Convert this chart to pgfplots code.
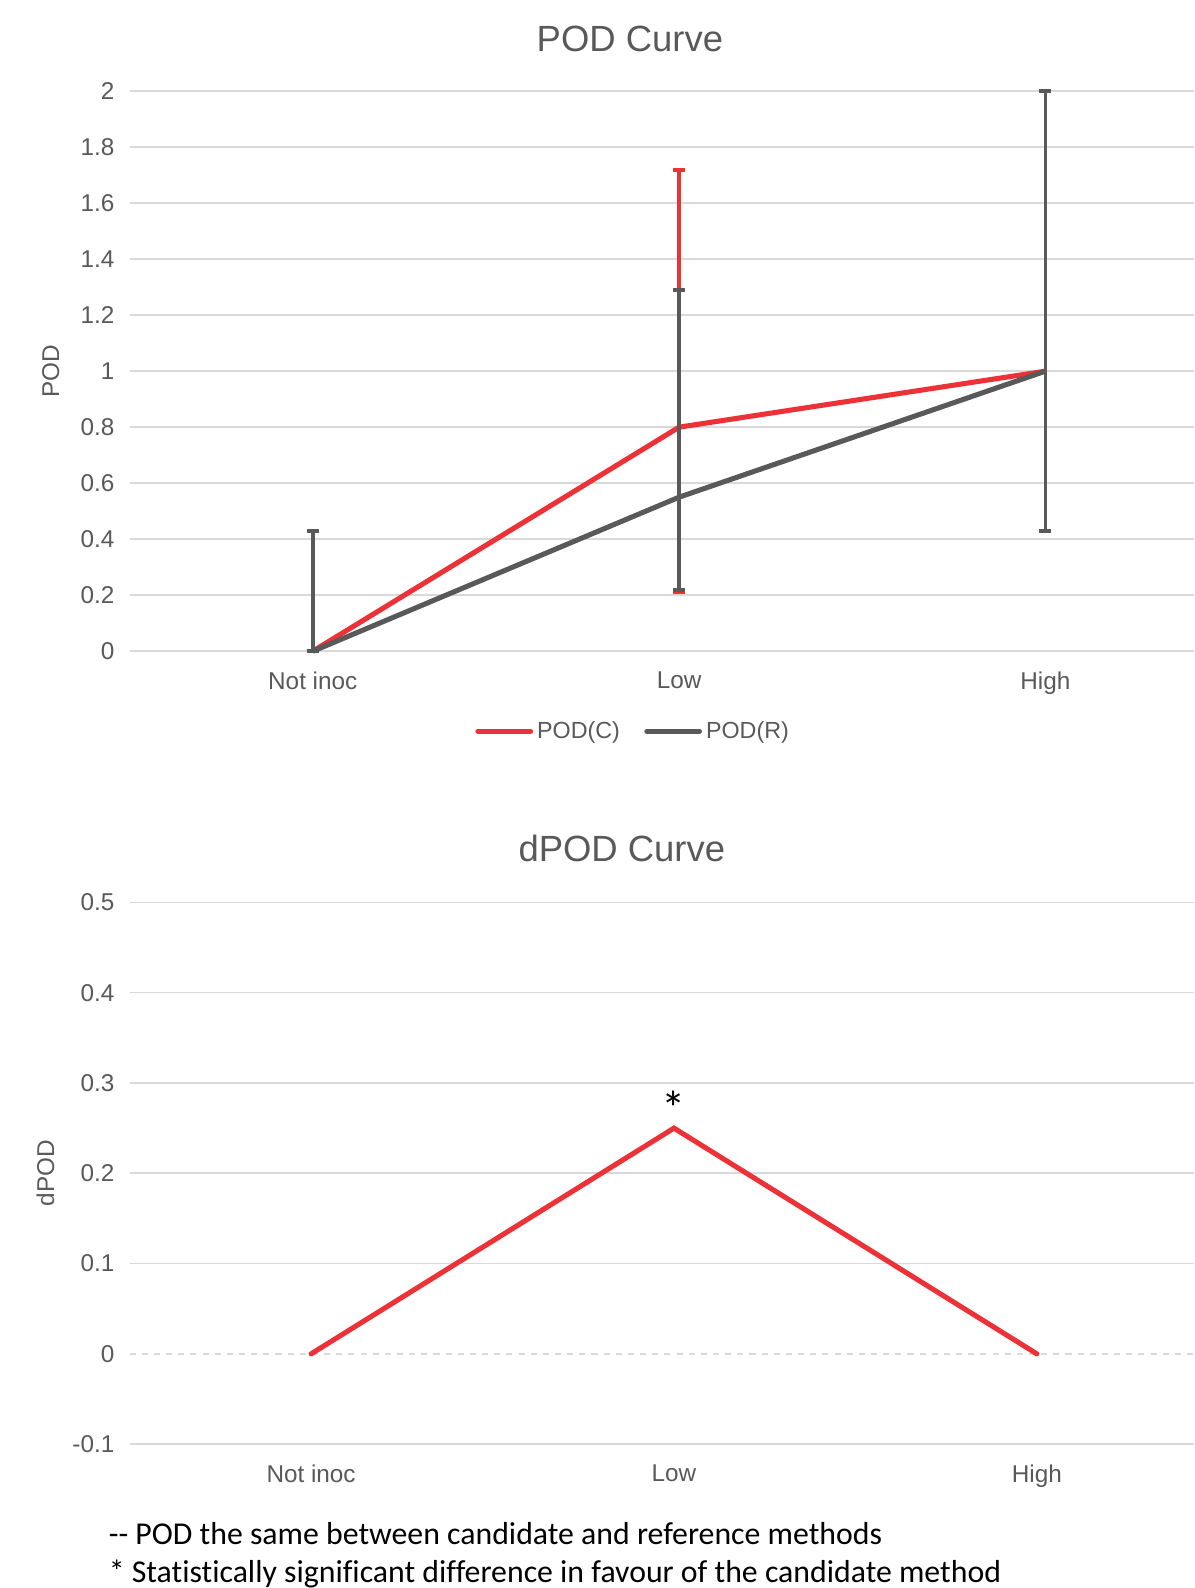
\documentclass[border=0pt]{standalone}
\usepackage{pgfplots}
\pgfplotsset{compat=1.18}
\usepackage{fontspec}
\setmainfont{Liberation Sans}
\newfontfamily\calibri[Ligatures=NoCommon]{Carlito}
\definecolor{cred}{RGB}{237,50,55}
\definecolor{cgray}{RGB}{89,89,89}
\definecolor{cgrid}{RGB}{217,217,217}
\begin{document}
\begin{tikzpicture}
\useasboundingbox (0,0) rectangle (589.5pt,-784pt);
\pgfplotsset{
 common/.style={
  scale only axis, width=525.5pt,
  axis line style={draw=none}, major tick length=0pt,
  ymajorgrids, grid style={cgrid, line width=0.8pt},
  xtick={0,1,2}, xticklabels={Not inoc, Low, High},
  tick label style={font=\fontsize{12}{14}\selectfont, text=cgray},
  /pgf/number format/assume math mode=true,
  yticklabel style={/pgf/number format/fixed, xshift=-4pt},
  xticklabel style={yshift=-6.5pt},
  xmin=-0.5,
  clip=false,
  ylabel style={font=\fontsize{12}{14}\selectfont, text=cgray, anchor=center},
 }
}
\begin{axis}[common, at={(64pt,-321.5pt)}, anchor=south west, height=276.5pt,
  xmax=2.406, ymin=0, ymax=2,
  ytick={0,0.2,0.4,0.6,0.8,1,1.2,1.4,1.6,1.8,2},
  ylabel={POD}, ylabel style={at={(axis description cs:-0.074,0.5)}},
  legend style={at={(0.474,-0.143)}, anchor=center, draw=none, legend columns=2,
    font=\fontsize{11.5}{13}\selectfont, text=cgray,
    /tikz/every even column/.append style={column sep=10pt}},
  legend image code/.code={\draw[#1, line cap=round] (0pt,0pt) -- (26pt,0pt);},
  ]
\addplot[cred, line width=2.5pt,
  error bars/.cd, y dir=both, y explicit,
  error bar style={line width=1.8pt, cred},
  error mark options={cred, rotate=90, line width=2pt, mark size=3pt}]
  coordinates {(0,0) += (0,0.43) -= (0,0) (1,0.8) += (0,0.92) -= (0,0.59) (2,1) += (0,1) -= (0,0.57)};
\addlegendentry{POD(C)}
\addplot[cgray, line width=2.5pt,
  error bars/.cd, y dir=both, y explicit,
  error bar style={line width=1.8pt, cgray},
  error mark options={cgray, rotate=90, line width=2pt, mark size=3pt}]
  coordinates {(0,0) += (0,0.43) -= (0,0) (1,0.55) += (0,0.74) -= (0,0.33) (2,1) += (0,1) -= (0,0.57)};
\addlegendentry{POD(R)}
\end{axis}
\node[font=\fontsize{18}{20}\selectfont, text=cgray] at (311pt,-19pt) {POD Curve};

\begin{axis}[common, at={(64pt,-713pt)}, anchor=south west, height=267.5pt,
  xmax=2.433, ymin=-0.1, ymax=0.5,
  ytick={-0.1,0.1,0.2,0.3,0.4,0.5},
  extra y ticks={0}, extra y tick style={grid style={cgrid, dashed, line width=0.8pt}},
  ylabel={dPOD}, ylabel style={at={(axis description cs:-0.079,0.5)}},
  ]
\addplot[cred, line width=2.5pt, line cap=round, line join=miter] coordinates {(0,0) (1,0.25) (2,0)};
\node[font=\calibri\fontsize{24}{24}\selectfont, anchor=south, inner sep=0pt] at (axis cs:1,0.252) {*};
\end{axis}
\node[font=\fontsize{18}{20}\selectfont, text=cgray] at (307pt,-419pt) {dPOD Curve};

\node[font=\calibri\fontsize{15.7}{18}\selectfont, anchor=base west, inner sep=0pt] at (53.5pt,-762.5pt) {-{}- POD the same between candidate and reference methods};
\node[font=\calibri\fontsize{15.7}{18}\selectfont, anchor=base west, inner sep=0pt] at (53.5pt,-781.5pt) {* Statistically significant difference in favour of the candidate method};
\end{tikzpicture}
\end{document}
